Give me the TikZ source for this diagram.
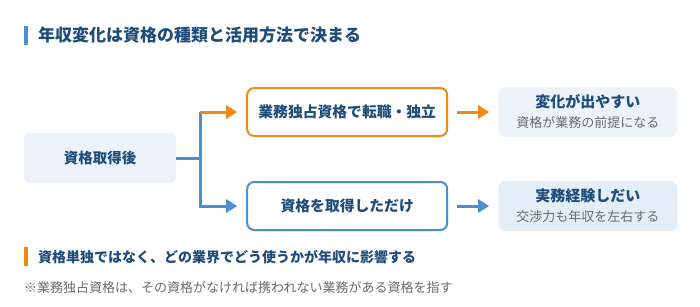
\documentclass[tikz,border=0pt]{standalone}
\usepackage{fontspec}
\setmainfont{Noto Sans CJK JP}
\usepackage{tikz}
\usetikzlibrary{positioning,arrows.meta,calc}
\definecolor{KNavy}{HTML}{1E4D7B}
\definecolor{KBlue}{HTML}{4A90D0}
\definecolor{KOrange}{HTML}{F08A10}
\definecolor{KPale}{HTML}{ECF3FA}
\definecolor{KPaleB}{HTML}{E4EEF7}
\definecolor{KGray}{HTML}{6B6B6B}
\tikzset{
  startbox/.style={fill=KPale,rounded corners=6pt,minimum width=152pt,minimum height=50pt,inner sep=0pt,text=KNavy,font=\fontsize{14.5}{17}\selectfont\bfseries},
  pathbox/.style={draw,line width=2pt,fill=white,rounded corners=7pt,minimum width=200pt,minimum height=48pt,inner sep=0pt,text=KNavy,font=\fontsize{14.8}{17}\selectfont\bfseries},
  resbox/.style={fill=KPale,rounded corners=7pt,minimum width=179pt,minimum height=50pt,inner sep=0pt},
  restitle/.style={inner sep=0pt,text=KNavy,font=\fontsize{15}{18}\selectfont\bfseries},
  ressub/.style={inner sep=0pt,text=KGray,font=\fontsize{13}{16}\selectfont},
  headtext/.style={inner sep=0pt,anchor=west,text=KNavy,font=\fontsize{17}{20}\selectfont\bfseries},
  pointtext/.style={inner sep=0pt,anchor=west,text=KNavy,font=\fontsize{14}{17}\selectfont\bfseries},
  notetext/.style={inner sep=0pt,anchor=west,text=KGray,font=\fontsize{13}{16}\selectfont},
  barr/.style={line width=3pt,draw=KBlue,-{Triangle[length=11pt,width=13pt]},KBlue},
  oarr/.style={line width=3pt,draw=KOrange,-{Triangle[length=11pt,width=13pt]},KOrange}
}

\begin{document}
\begin{tikzpicture}[x=1pt,y=1pt]
\useasboundingbox (0,0) rectangle (700,-306);

\fill[KBlue] (24,-26) rectangle (28,-45);
\node[headtext] (title) at (38,-35) {年収変化は資格の種類と活用方法で決まる};

\node[startbox] (start) at (100,-158) {資格取得後};
\node[pathbox, draw=KOrange, right=70pt of start, yshift=46pt] (mono) {業務独占資格で転職・独立};
\node[pathbox, draw=KBlue, below=44pt of mono] (plain) {資格を取得しただけ};

\node[resbox, right=50pt of mono] (change) {};
\node[restitle] (changet) at ([yshift=10pt]change.center) {変化が出やすい};
\node[ressub] (changes) at ([yshift=-11pt]change.center) {資格が業務の前提になる};
\node[resbox, fill=KPaleB, right=50pt of plain] (skill) {};
\node[restitle] (skillt) at ([yshift=10pt]skill.center) {実務経験しだい};
\node[ressub] (skills) at ([yshift=-11pt]skill.center) {交渉力も年収を左右する};

\coordinate (fork) at ($(start.east)+(24,0)$);
\draw[line width=3pt, KBlue] (start.east) -- (fork);
\draw[barr, shorten >=9pt] (fork |- mono.west) |- (plain.west);
\draw[oarr, shorten >=9pt] (fork |- mono.west) -- (mono.west);
\draw[oarr, shorten <=9pt, shorten >=9pt] (mono) -- (change);
\draw[barr, shorten <=9pt, shorten >=9pt] (plain) -- (skill);

\fill[KOrange] (24,-247) rectangle (28,-266);
\node[pointtext] (point) at (38,-257) {資格単独ではなく、どの業界でどう使うかが年収に影響する};
\node[notetext] (note) at (24,-288) {※業務独占資格は、その資格がなければ携われない業務がある資格を指す};
\end{tikzpicture}
\end{document}
